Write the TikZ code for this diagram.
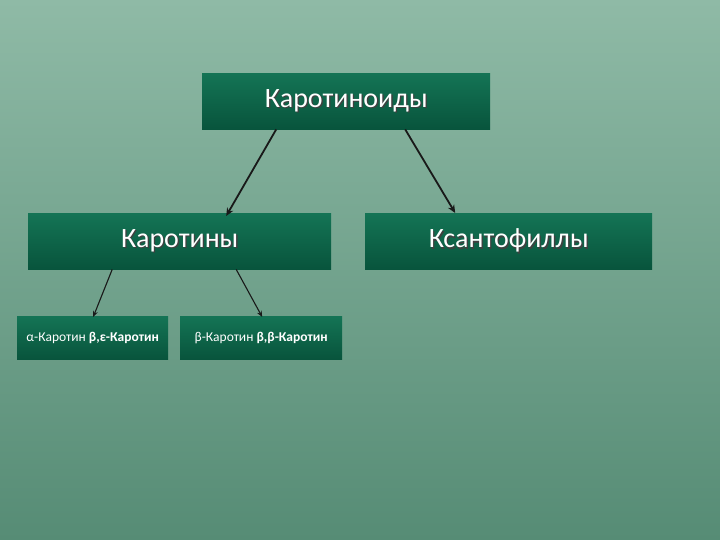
\documentclass[tikz,border=0pt]{standalone}
\usepackage{fontspec}
\setmainfont{Carlito}
\usetikzlibrary{arrows.meta,calc}
\definecolor{bgtop}{RGB}{143,186,166}
\definecolor{bgbot}{RGB}{86,140,117}
\definecolor{boxtop}{RGB}{20,116,85}
\definecolor{boxbot}{RGB}{8,84,60}
\newcommand{\shtxt}[1]{\makebox[0pt][l]{\raisebox{-1.3pt}{\hspace{1.3pt}\textcolor{black!75}{#1}}}#1}
\tikzset{
  gbox/.style={draw=none, top color=boxtop, bottom color=boxbot, text=white, inner sep=0pt, anchor=north west},
  arr/.style={-{Stealth[length=8pt,width=7pt]}, line width=1.8pt, black!90},
  arrs/.style={-{Stealth[length=6pt,width=5pt]}, line width=1.1pt, black!90}
}
\begin{document}
\begin{tikzpicture}[x=1pt,y=-1pt]
\shade[top color=bgtop, bottom color=bgbot] (0,0) rectangle (720,540);
\useasboundingbox (0,0) rectangle (720,540);
\node[gbox, minimum width=288pt, minimum height=56pt, font=\fontsize{28}{32}\selectfont] (top) at (202,73) {\shtxt{Каротиноиды}};
\node[gbox, minimum width=303pt, minimum height=56pt, font=\fontsize{28}{32}\selectfont] (kar) at (28,213) {\shtxt{Каротины}};
\node[gbox, minimum width=287pt, minimum height=56pt, font=\fontsize{28}{32}\selectfont] (ksa) at (365,213) {\shtxt{Ксантофиллы}};
\node[gbox, minimum width=151pt, minimum height=43pt, font=\fontsize{13.5}{16}\selectfont] (alp) at (17,316) {α-Каротин \textbf{β,ε-Каротин}};
\node[gbox, minimum width=162pt, minimum height=43pt, font=\fontsize{13.5}{16}\selectfont] (bet) at (180,316) {β-Каротин \textbf{β,β-Каротин}};
\draw[arr] ([xshift=-70pt]top.south) -- ([xshift=46.5pt,yshift=-3pt]kar.north);
\draw[arr] ([xshift=59pt]top.south) -- ([xshift=-53.5pt]ksa.north);
\draw[arrs] ([xshift=-67.5pt]kar.south) -- ([xshift=0.5pt,yshift=-1pt]alp.north);
\draw[arrs] ([xshift=56.5pt]kar.south) -- ([xshift=1pt,yshift=-1pt]bet.north);
\end{tikzpicture}
\end{document}
